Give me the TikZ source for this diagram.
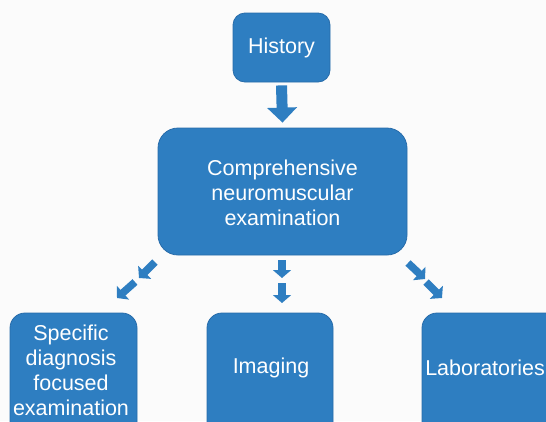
\documentclass[tikz,border=0pt]{standalone}
\usepackage{fontspec}
\setmainfont{Liberation Sans}
\usetikzlibrary{arrows.meta}
\definecolor{boxblue}{RGB}{46,126,193}
\definecolor{boxedge}{RGB}{40,108,170}
\definecolor{bg}{RGB}{251,251,251}
\tikzset{
  box/.style={draw=boxedge, line width=0.8pt, fill=boxblue, rectangle, inner sep=0pt},
  lbl/.style={text=white, font=\fontsize{21.5}{25}\selectfont, align=center, inner sep=0pt},
  bigarrow/.style={draw=boxblue, line width=11pt, -{Triangle[width=29pt,length=15pt]}},
  smallarrow/.style={draw=boxblue, line width=7.5pt, -{Triangle[width=18pt,length=8pt]}}
}
\begin{document}
\begin{tikzpicture}[x=1pt,y=-1pt]
\useasboundingbox (0,0) rectangle (546,421);
\fill[bg] (0,0) rectangle (546,421);
\begin{scope}
\clip (0,0) rectangle (546,421);
% boxes
\node[box, rounded corners=12pt, minimum width=97pt, minimum height=69pt] (hist) at (281.5,47.5) {};
\node[lbl] (histt) at (281.5,47.5) {History};
\node[box, rounded corners=20pt, minimum width=249pt, minimum height=127pt] (comp) at (282.5,191.5) {};
\node[lbl] (compt) at (282.5,193) {Comprehensive\\neuromuscular\\examination};
\node[box, rounded corners=15pt, minimum width=127pt, minimum height=140pt] (spec) at (73.5,383) {};
\node[lbl] (spect) at (71,370.5) {Specific\\diagnosis\\focused\\examination};
\node[box, rounded corners=15pt, minimum width=126pt, minimum height=140pt] (imag) at (270,383) {};
\node[lbl] (imagt) at (271,368) {Imaging};
\node[box, rounded corners=15pt, minimum width=140pt, minimum height=140pt] (labs) at (492,383) {};
\node[lbl, anchor=east] (labst) at (545,368) {Laboratories};
% arrow joints
\coordinate (c1) at (282,260);
\coordinate (c2) at (282,278);
\coordinate (c3) at (282,283);
\coordinate (c4) at (282,303);
\coordinate (l1) at (155,262);
\coordinate (l2) at (139,278);
\coordinate (l3) at (135,282);
\coordinate (l4) at (117,298);
\coordinate (r1) at (408,263);
\coordinate (r2) at (425,279);
\coordinate (r3) at (426,282);
\coordinate (r4) at (442,298);
\end{scope}
% connectors
\draw[bigarrow] ([yshift=-3pt]hist.south) -- ([yshift=5pt]comp.north);
\draw[smallarrow] (c1) -- (c2);
\draw[smallarrow] (c3) -- (c4);
\draw[smallarrow] (l1) -- (l2);
\draw[smallarrow] (l3) -- (l4);
\draw[smallarrow] (r1) -- (r2);
\draw[smallarrow] (r3) -- (r4);
\end{tikzpicture}
\end{document}
